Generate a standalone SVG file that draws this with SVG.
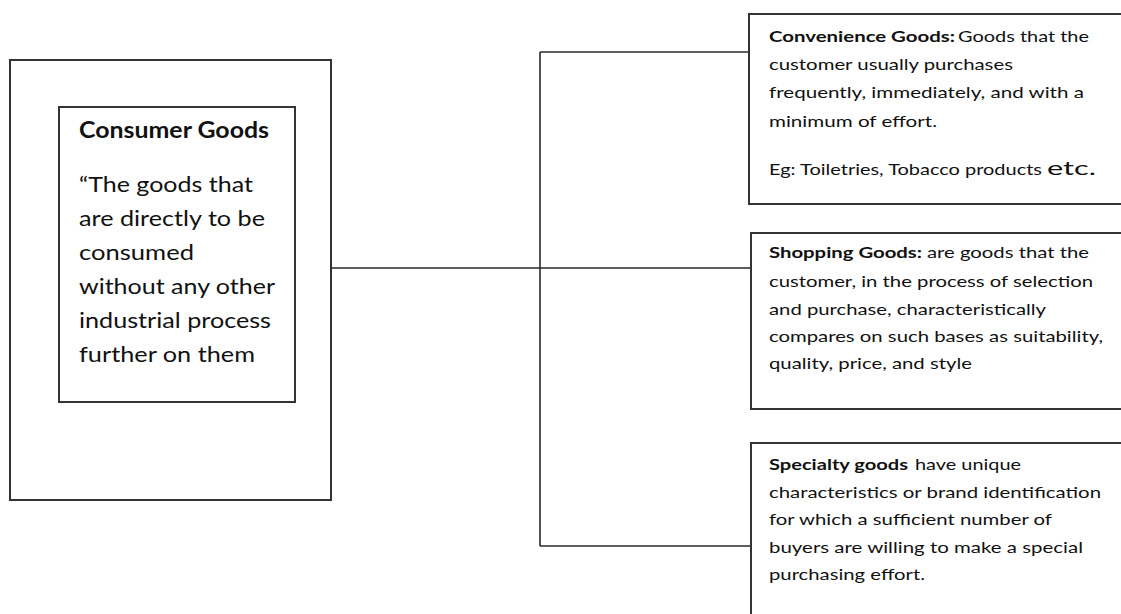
<svg xmlns="http://www.w3.org/2000/svg" width="1121" height="614" viewBox="0 0 1121 614">
<style>
.box{fill:#fff;stroke:#333;stroke-width:2}
.ln{fill:none;stroke:#2a2a2a;stroke-width:1.6}
text{font-family:Lato,"Open Sans","Liberation Sans",sans-serif;fill:#111}
.b{font-weight:bold}
.L{font-size:22px}
.R{font-size:16px}
</style>
<rect width="1121" height="614" fill="#fff"/>
<g id="consumer-goods">
<rect class="box" x="10" y="60" width="321" height="440"/>
<rect class="box" x="59" y="107" width="236" height="295"/>
<text class="L b" x="79" y="138" textLength="190" lengthAdjust="spacingAndGlyphs">Consumer Goods</text>
<text class="L" x="79" y="192" textLength="174" lengthAdjust="spacingAndGlyphs">“The goods that</text>
<text class="L" x="79" y="226" textLength="186" lengthAdjust="spacingAndGlyphs">are directly to be</text>
<text class="L" x="79" y="260" textLength="115" lengthAdjust="spacingAndGlyphs">consumed</text>
<text class="L" x="79" y="294" textLength="196" lengthAdjust="spacingAndGlyphs">without any other</text>
<text class="L" x="79" y="328" textLength="192" lengthAdjust="spacingAndGlyphs">industrial process</text>
<text class="L" x="79" y="362" textLength="176" lengthAdjust="spacingAndGlyphs">further on them</text>
</g>
<g id="connectors">
<path class="ln" d="M331 268H540M540 52V546M540 52H749M540 268H750M540 546H750"/>
</g>
<g id="convenience-goods">
<rect class="box" x="749" y="14" width="380" height="190"/>
<text class="R b" x="769" y="42" textLength="186" lengthAdjust="spacingAndGlyphs">Convenience  Goods:</text>
<text class="R" x="958" y="42" textLength="131" lengthAdjust="spacingAndGlyphs">Goods that the</text>
<text class="R" x="769" y="70" textLength="244" lengthAdjust="spacingAndGlyphs">customer usually purchases</text>
<text class="R" x="769" y="98" textLength="315" lengthAdjust="spacingAndGlyphs">frequently,  immediately, and with a</text>
<text class="R" x="769" y="127" textLength="168" lengthAdjust="spacingAndGlyphs">minimum of effort.</text>
<text class="R" x="769" y="175" textLength="273" lengthAdjust="spacingAndGlyphs">Eg: Toiletries, Tobacco products</text>
<text x="1047" y="175" font-size="20" textLength="49" lengthAdjust="spacingAndGlyphs">etc.</text>
</g>
<g id="shopping-goods">
<rect class="box" x="751" y="233" width="380" height="176"/>
<text class="R b" x="769" y="258" textLength="153" lengthAdjust="spacingAndGlyphs">Shopping  Goods:</text>
<text class="R" x="927" y="258" textLength="162" lengthAdjust="spacingAndGlyphs">are goods that the</text>
<text class="R" x="769" y="287" textLength="324" lengthAdjust="spacingAndGlyphs">customer, in the process of selection</text>
<text class="R" x="769" y="315" textLength="277" lengthAdjust="spacingAndGlyphs">and purchase, characteristically</text>
<text class="R" x="769" y="342" textLength="334" lengthAdjust="spacingAndGlyphs">compares on such bases as suitability,</text>
<text class="R" x="769" y="369" textLength="203" lengthAdjust="spacingAndGlyphs">quality, price, and style</text>
</g>
<g id="specialty-goods">
<rect class="box" x="751" y="443" width="380" height="190"/>
<text class="R b" x="769" y="470" textLength="139" lengthAdjust="spacingAndGlyphs">Specialty goods</text>
<text class="R" x="915" y="470" textLength="106" lengthAdjust="spacingAndGlyphs">have unique</text>
<text class="R" x="769" y="498" textLength="332" lengthAdjust="spacingAndGlyphs">characteristics or brand  identification</text>
<text class="R" x="769" y="525" textLength="283" lengthAdjust="spacingAndGlyphs">for which a sufficient number of</text>
<text class="R" x="769" y="553" textLength="314" lengthAdjust="spacingAndGlyphs">buyers  are willing to make a special</text>
<text class="R" x="769" y="580" textLength="156" lengthAdjust="spacingAndGlyphs">purchasing effort.</text>
</g>
</svg>
